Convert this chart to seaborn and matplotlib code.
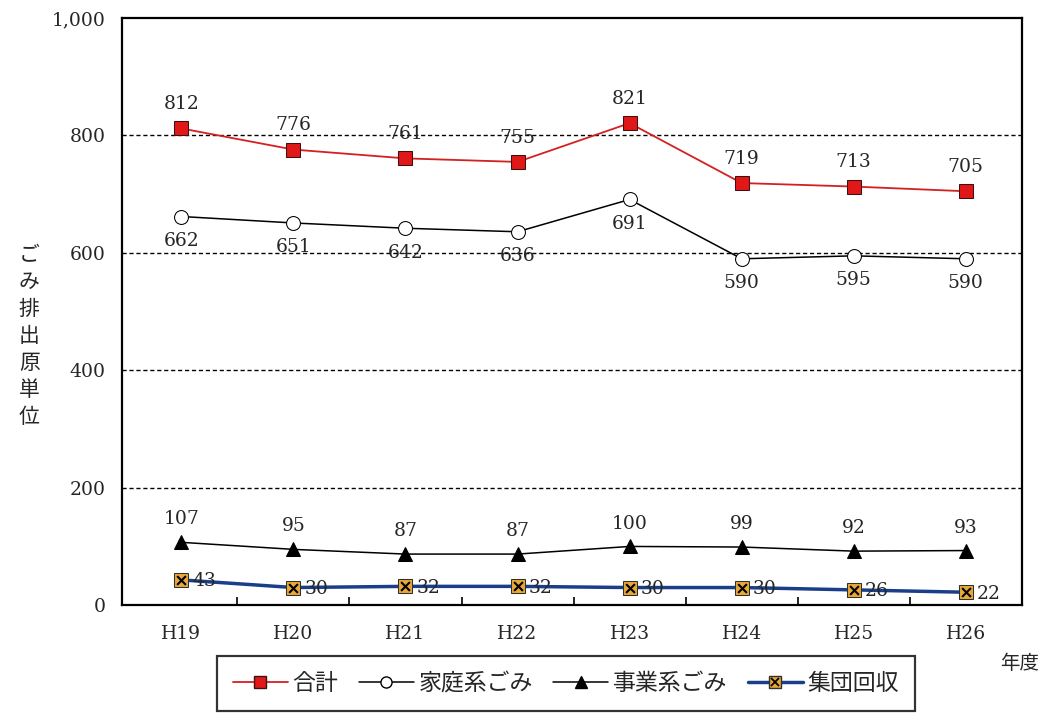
import numpy as np
import pandas as pd
import matplotlib
matplotlib.use("Agg")
import matplotlib.pyplot as plt
from matplotlib.lines import Line2D
from matplotlib.legend_handler import HandlerTuple
import seaborn as sns

# データ
years = ["H19", "H20", "H21", "H22", "H23", "H24", "H25", "H26"]
total = [812, 776, 761, 755, 821, 719, 713, 705]
household = [662, 651, 642, 636, 691, 590, 595, 590]
business = [107, 95, 87, 87, 100, 99, 92, 93]
collection = [43, 30, 32, 32, 30, 30, 26, 22]

sns.set_theme(style="white")
plt.rcParams['font.family'] = ['Noto Sans CJK JP', 'DejaVu Sans']
num_font = ['DejaVu Serif']

df = pd.DataFrame({"x": np.arange(len(years)), "total": total, "household": household,
                   "business": business, "collection": collection})

fig = plt.figure(figsize=(10.48, 7.23), dpi=100)
ax = fig.add_axes([0.1164, 0.163, 0.8586, 0.812])

sns.lineplot(data=df, x="x", y="total", ax=ax, color="#d42020", lw=1.3,
             marker="s", markersize=10, markerfacecolor="#e01818", markeredgecolor="#401010")
sns.lineplot(data=df, x="x", y="household", ax=ax, color="black", lw=1.1,
             marker="o", markersize=10, markerfacecolor="white", markeredgecolor="black")
sns.lineplot(data=df, x="x", y="business", ax=ax, color="black", lw=1.1,
             marker="^", markersize=10, markerfacecolor="black", markeredgecolor="black")
sns.lineplot(data=df, x="x", y="collection", ax=ax, color="#1a3f8a", lw=2.5,
             marker="s", markersize=10, markerfacecolor="#e8a838", markeredgecolor="#303030")
ax.scatter(df["x"], df["collection"], marker="x", s=40, color="black", lw=1.5, zorder=5)

# 数値ラベル
for i in range(len(years)):
    ax.annotate(str(total[i]), (i, total[i]), xytext=(0, 11), textcoords="offset points",
                ha="center", va="bottom", fontsize=13.5, family=num_font)
    ax.annotate(str(household[i]), (i, household[i]), xytext=(0, -11), textcoords="offset points",
                ha="center", va="top", fontsize=13.5, family=num_font)
    ax.annotate(str(business[i]), (i, business[i]), xytext=(0, 10), textcoords="offset points",
                ha="center", va="bottom", fontsize=13.5, family=num_font)
    ax.annotate(str(collection[i]), (i, collection[i]), xytext=(8, -1), textcoords="offset points",
                ha="left", va="center", fontsize=13.5, family=num_font)

ax.set_xlim(-0.53, 7.5)
ax.set_ylim(0, 1000)
ax.set_yticks([0, 200, 400, 600, 800, 1000])
ax.set_yticklabels(["0", "200", "400", "600", "800", "1,000"], fontsize=13.5, family=num_font)
ax.set_xticks(range(len(years)))
ax.set_xticklabels(years, fontsize=13.5, family=num_font)
ax.set_xticks(np.arange(0.5, 7, 1), minor=True)
ax.tick_params(axis="x", which="major", length=0, pad=14)
ax.tick_params(axis="x", which="minor", direction="in", length=6, width=1.2, color="black", bottom=True)
ax.tick_params(axis="y", length=0, pad=12)
ax.set_xlabel("")
ax.set_ylabel("")
for y in [200, 400, 600, 800]:
    ax.axhline(y, color="black", lw=1.0, ls=(0, (3, 2)), zorder=0)
for s in ax.spines.values():
    s.set_color("black")
    s.set_linewidth(1.6)

fig.text(0.028, 0.535, "\n".join("ごみ排出原単位"), ha="center", va="center",
         fontsize=15, linespacing=1.3)
fig.text(0.973, 0.082, "年度", ha="center", va="center", fontsize=14)

handles = [
    Line2D([], [], color="#d42020", lw=1.3, marker="s", markersize=8,
           markerfacecolor="#e01818", markeredgecolor="#401010"),
    Line2D([], [], color="black", lw=1.1, marker="o", markersize=8,
           markerfacecolor="white", markeredgecolor="black"),
    Line2D([], [], color="black", lw=1.1, marker="^", markersize=8, markerfacecolor="black"),
    (Line2D([], [], color="#1a3f8a", lw=2.5, marker="s", markersize=8,
            markerfacecolor="#e8a838", markeredgecolor="#303030"),
     Line2D([], [], ls="none", marker="x", markersize=6, color="black", mew=1.3)),
]
labels = ["合計", "家庭系ごみ", "事業系ごみ", "集団回収"]
leg = fig.legend(handles, labels, loc="center", bbox_to_anchor=(0.54, 0.055), ncol=4,
                 fontsize=16.5, frameon=True, fancybox=False, edgecolor="black",
                 handlelength=2.4, handletextpad=0.2, columnspacing=0.9,
                 borderpad=0.7, handler_map={tuple: HandlerTuple(ndivide=1)})
leg.get_frame().set_linewidth(1.6)

fig.savefig("out.png", dpi=100, facecolor="white")
